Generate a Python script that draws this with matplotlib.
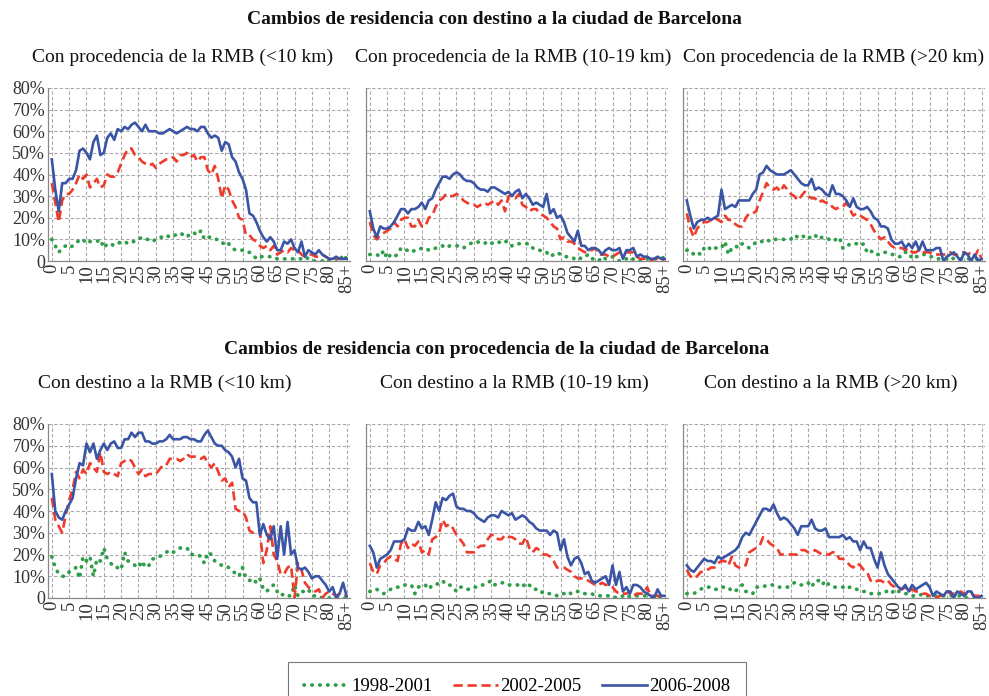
import matplotlib
matplotlib.use("Agg")
import matplotlib.pyplot as plt
import numpy as np

plt.rcParams['font.family'] = ['Liberation Serif', 'DejaVu Serif']

ages = list(range(86))
tick_pos = list(range(0, 86, 5))
tick_labels = [str(a) for a in range(0, 85, 5)] + ["85+"]
ytick_vals = [0, 10, 20, 30, 40, 50, 60, 70, 80]
ytick_labels = ["0"] + [f"{v}%" for v in ytick_vals[1:]]

series_names = ["1998-2001", "2002-2005", "2006-2008"]

title_top = "Cambios de residencia con destino a la ciudad de Barcelona"
title_bottom = "Cambios de residencia con procedencia de la ciudad de Barcelona"
subtitles_top = ["Con procedencia de la RMB (<10 km)",
                 "Con procedencia de la RMB (10-19 km)",
                 "Con procedencia de la RMB (>20 km)"]
subtitles_bottom = ["Con destino a la RMB (<10 km)",
                    "Con destino a la RMB (10-19 km)",
                    "Con destino a la RMB (>20 km)"]

# ---- Panel 1: hacia Barcelona, procedencia RMB <10 km
p1_9801 = [10,7,4,6,7,6,7,8,10,10,8,9,9,9,10,6,8,8,7,8,9,9,8,9,9,10,11,10,10,9,
           10,11,11,12,11,12,12,13,12,11,13,13,12,14,10,11,11,10,10,9,7,8,6,5,5,5,4,4,3,1,
           2,2,2,2,2,1,1,1,1,1,1,1,1,2,1,0,0,0,0,1,0,0,1,0,3,1]
p1_0205 = [36,27,18,28,31,31,33,36,40,38,40,34,36,38,34,35,40,39,39,41,45,49,52,52,49,48,46,45,44,45,
           43,45,46,47,47,48,46,49,49,50,48,49,46,48,48,42,40,44,38,29,35,33,28,25,20,19,12,12,10,9,
           7,6,7,5,7,3,4,5,4,6,5,5,3,2,3,3,2,2,3,2,1,1,1,1,1,1]
p1_0608 = [47,33,23,36,36,38,38,42,51,52,50,47,55,58,49,50,57,59,56,61,60,62,61,63,64,62,60,63,60,60,
           60,59,59,60,61,60,59,60,61,62,61,61,60,62,62,59,57,58,57,51,55,54,48,46,41,38,33,22,21,18,
           14,11,9,11,9,5,5,9,8,10,6,4,9,2,5,4,3,5,3,2,1,1,2,1,1,1]

# ---- Panel 2: hacia Barcelona, procedencia RMB 10-19 km
p2_9801 = [3,3,3,2,5,1,3,2,3,6,5,5,4,5,5,6,6,5,5,6,6,7,6,7,7,7,7,6,7,8,
           9,9,8,8,9,8,9,9,8,9,9,7,8,8,8,8,8,6,5,5,4,4,2,3,4,3,2,2,2,1,
           2,1,2,3,1,1,0,2,1,1,2,1,0,1,1,0,1,0,0,0,1,1,1,1,1,2]
p2_0205 = [18,12,10,12,13,14,15,18,16,19,20,20,16,16,19,16,16,20,21,25,28,29,31,30,30,31,30,28,27,26,
           26,25,26,27,26,27,28,26,28,23,30,30,29,31,26,25,23,24,24,22,21,20,18,16,15,10,11,9,9,8,
           6,5,4,5,5,6,3,3,3,2,2,3,4,3,4,4,4,2,1,1,1,0,1,1,0,1]
p2_0608 = [23,15,11,16,15,15,16,18,21,24,24,22,24,24,25,27,24,28,29,33,36,39,39,38,40,41,40,38,37,37,
           36,34,33,33,32,34,34,33,32,31,32,30,32,33,29,31,29,26,27,26,25,31,22,24,20,21,18,13,11,9,
           14,7,7,5,6,6,5,3,5,6,5,5,6,1,5,5,6,2,3,2,2,1,1,2,1,1]

# ---- Panel 3: hacia Barcelona, procedencia RMB >20 km
p3_9801 = [5,5,3,4,3,6,7,5,6,6,6,9,3,6,7,6,8,7,6,7,9,9,9,10,9,10,10,10,10,10,
           10,12,11,12,11,10,12,12,10,11,11,10,9,10,11,6,6,8,8,8,7,8,4,5,3,3,3,4,4,3,
           3,2,2,4,4,1,2,2,3,3,2,2,1,1,1,1,2,1,1,1,1,1,1,1,1,1]
p3_0205 = [22,15,11,15,17,18,18,19,20,19,18,21,19,19,17,16,16,20,22,22,23,28,32,36,34,33,34,32,35,33,
           31,30,28,30,32,30,29,29,27,28,27,27,25,24,25,25,27,24,21,22,21,20,19,17,14,12,10,11,9,7,
           6,6,6,5,6,4,4,5,4,4,4,3,3,3,3,3,4,3,3,4,4,3,4,2,5,1]
p3_0608 = [28,21,15,18,19,19,20,19,20,21,33,24,25,26,25,28,28,28,28,31,33,40,41,44,42,41,40,40,40,41,
           42,40,38,36,35,35,38,33,34,33,31,30,35,31,31,30,28,25,29,25,24,24,25,23,20,19,16,16,15,10,
           8,8,9,6,8,6,9,5,9,5,5,5,6,6,0,2,3,4,2,0,4,3,0,3,0,1]

# ---- Panel 4: desde Barcelona, destino RMB <10 km
p4_9801 = [19,14,11,10,10,12,13,14,9,19,17,19,10,18,17,23,18,16,14,14,13,21,17,16,15,14,17,14,15,18,
           18,19,20,21,22,21,22,23,23,23,20,20,20,19,16,21,20,17,16,15,15,14,13,11,10,14,9,8,9,7,
           9,4,3,5,6,3,1,2,1,1,6,1,3,3,4,1,1,1,0,0,0,0,0,0,0,0]
p4_0205 = [46,36,33,30,38,45,50,58,55,59,57,62,60,58,67,58,57,58,57,56,62,63,64,63,60,57,59,56,57,57,
           57,59,61,61,64,64,64,63,64,66,65,65,65,64,65,62,60,62,58,54,55,51,53,41,40,40,37,31,30,30,
           31,16,22,33,20,17,11,11,14,15,0,16,13,7,5,4,3,4,0,2,3,2,1,2,2,1]
p4_0608 = [57,40,37,36,40,43,46,55,62,61,71,67,71,64,68,71,68,71,72,69,69,73,73,76,74,76,76,72,72,71,
           71,72,72,73,75,73,73,73,74,74,73,73,72,72,75,77,74,71,70,70,68,67,65,60,64,55,54,46,44,44,
           29,34,29,27,33,18,33,20,35,20,22,14,13,14,12,9,10,10,8,6,3,5,0,2,7,1]

# ---- Panel 5: desde Barcelona, destino RMB 10-19 km
p5_9801 = [3,3,4,3,2,3,4,4,5,5,6,6,6,2,5,6,6,4,6,6,7,8,6,6,5,3,5,5,4,4,
           5,5,6,6,7,8,6,7,7,7,6,6,6,6,5,7,6,4,4,4,2,2,2,2,1,2,2,3,2,3,
           3,2,2,2,2,1,1,1,1,1,1,0,0,1,0,1,1,1,1,1,1,0,0,0,0,0]
p5_0205 = [16,12,11,15,16,18,19,18,17,25,27,23,25,24,26,21,22,20,27,28,30,36,33,34,32,29,27,25,21,21,
           21,23,24,24,27,29,29,27,27,29,28,28,27,25,25,28,23,21,23,22,20,20,19,17,14,14,14,13,12,10,
           9,9,9,8,7,6,6,7,6,6,5,3,2,2,2,3,1,2,2,2,5,1,1,1,1,0]
p5_0608 = [24,21,14,18,19,20,22,26,26,26,27,32,31,31,35,32,33,29,36,44,40,46,45,47,48,42,41,41,40,40,
           39,37,36,35,37,38,38,37,40,39,38,39,36,37,38,37,35,34,32,31,31,31,29,31,30,22,27,19,15,18,
           19,16,11,12,8,7,8,9,10,6,15,6,12,3,5,2,6,6,5,3,2,1,0,4,1,1]

# ---- Panel 6: desde Barcelona, destino RMB >20 km
p6_9801 = [2,2,2,3,4,5,5,5,4,4,5,5,5,3,3,5,6,3,3,2,5,5,5,6,6,6,5,5,5,5,
           6,7,6,6,6,7,5,8,8,6,8,6,5,5,5,5,4,5,4,4,3,3,3,2,2,2,2,3,3,2,
           4,3,3,2,2,1,1,1,2,1,1,1,1,1,1,1,1,1,1,1,0,0,0,0,0,0]
p6_0205 = [13,10,9,10,12,12,13,14,14,16,17,17,15,19,15,14,15,15,21,22,23,24,28,27,25,24,23,20,20,20,
           20,20,20,22,22,21,21,22,21,20,20,20,21,21,18,18,17,15,14,16,15,13,12,8,7,8,8,7,8,6,
           5,4,4,5,3,4,3,3,2,2,1,1,0,1,1,3,2,2,2,3,2,1,2,1,1,1]
p6_0608 = [15,13,12,14,16,18,17,17,16,19,18,19,20,21,22,24,28,30,29,32,35,38,41,41,40,43,39,36,37,36,
           34,32,29,33,33,33,36,32,31,31,32,28,28,28,28,29,27,28,26,26,22,26,23,23,18,14,21,15,11,9,
           7,5,4,6,3,6,4,5,6,7,5,1,3,2,1,3,3,0,3,2,1,3,3,0,0,1]

panels_top = [(p1_9801, p1_0205, p1_0608), (p2_9801, p2_0205, p2_0608), (p3_9801, p3_0205, p3_0608)]
panels_bottom = [(p4_9801, p4_0205, p4_0608), (p5_9801, p5_0205, p5_0608), (p6_9801, p6_0205, p6_0608)]

c_green = '#2E9E48'
c_red = '#EE3B2B'
c_blue = '#3A55A5'
grid_c = '#A8A8A8'
text_c = '#333333'

W, H = 989, 696
fig = plt.figure(figsize=(W / 100, H / 100), dpi=100)


def fx(px):
    return px / W


def fy(py):
    return 1 - py / H


lefts = [48, 366, 683]
width = 302
rows = [(88, 261, panels_top), (424, 598, panels_bottom)]

handles = None
for (top, bottom, panels) in rows:
    for i, (d1, d2, d3) in enumerate(panels):
        ax = fig.add_axes([fx(lefts[i]), fy(bottom), width / W, (bottom - top) / H])
        l1, = ax.plot(ages, d1, color=c_green, lw=2.7, linestyle=(0, (0.1, 2.0)),
                      dash_capstyle='round', solid_capstyle='round', zorder=3)
        l2, = ax.plot(ages, d2, color=c_red, lw=1.9, linestyle=(0, (3.5, 1.8)), zorder=4)
        l3, = ax.plot(ages, d3, color=c_blue, lw=1.9, zorder=5)
        handles = [l1, l2, l3]
        ax.set_xlim(-1.1, 86)
        ax.set_ylim(0, 80)
        ax.set_xticks(tick_pos)
        ax.set_xticklabels(tick_labels, rotation=90, fontsize=13.5, color=text_c)
        ax.set_yticks(ytick_vals)
        if i == 0:
            ax.set_yticklabels(ytick_labels, fontsize=13, color=text_c)
        else:
            ax.set_yticklabels([])
        ax.tick_params(length=0, pad=2)
        ax.grid(True, color=grid_c, linestyle=(0, (3, 2)), lw=0.8)
        ax.set_axisbelow(True)
        for s in ['top', 'right']:
            ax.spines[s].set_visible(False)
        for s in ['left', 'bottom']:
            ax.spines[s].set_color('#888888')
            ax.spines[s].set_linewidth(0.9)

fig.text(fx(494), fy(20), title_top, ha='center', va='center', fontsize=14,
         fontweight='bold', color='#111111')
fig.text(fx(497), fy(350), title_bottom, ha='center', va='center', fontsize=14,
         fontweight='bold', color='#111111')
for x, t in zip([183, 513, 834], subtitles_top):
    fig.text(fx(x), fy(57), t, ha='center', va='center', fontsize=14, color='#111111')
for x, t in zip([165, 514, 831], subtitles_bottom):
    fig.text(fx(x), fy(383), t, ha='center', va='center', fontsize=14, color='#111111')

leg = fig.legend(handles, series_names, loc='upper center', bbox_to_anchor=(fx(517), fy(662)),
                 ncol=3, frameon=True, fontsize=13.5, handlelength=2.4, columnspacing=1.1,
                 handletextpad=0.1, borderpad=0.85, borderaxespad=0, fancybox=False,
                 edgecolor='#555555')
leg.get_frame().set_linewidth(0.8)

fig.savefig('out.png', dpi=100)
